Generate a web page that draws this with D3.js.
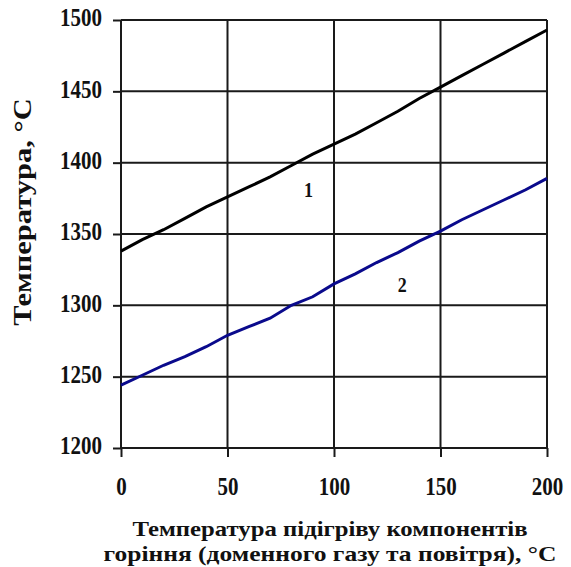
<!DOCTYPE html>
<html>
<head>
<meta charset="utf-8">
<script src="https://cdn.jsdelivr.net/npm/d3@7"></script>
<style>
  html, body { margin: 0; padding: 0; background: #fff; }
  svg { display: block; }
  text { font-family: "Liberation Serif", "Times New Roman", serif; font-weight: bold; fill: #111; }
</style>
</head>
<body>
<svg id="chart" width="571" height="567"></svg>
<script>
// Preheating temperature of the fuel components, °C
const preheat = [0, 10, 20, 30, 40, 50, 60, 70, 80, 90, 100, 110, 120, 130, 140, 150, 160, 170, 180, 190, 200];
// Curve 1 – flame temperature, °C
const series1 = [1338, 1346, 1353, 1361, 1369, 1376, 1383, 1390, 1398, 1406, 1413, 1420, 1428, 1436, 1445, 1453, 1461, 1469, 1477, 1485, 1493];
// Curve 2 – flame temperature, °C
const series2 = [1244, 1251, 1258, 1264, 1271, 1279, 1285, 1291, 1300, 1306, 1315, 1322, 1330, 1337, 1345, 1352, 1360, 1367, 1374, 1381, 1389];
const xTicks = [0, 50, 100, 150, 200];
const yTicks = [1200, 1250, 1300, 1350, 1400, 1450, 1500];
const curveLabels = [
  { name: "1", x: 88, y: 1381 },
  { name: "2", x: 132, y: 1315 }
];
const xTitle = ["Температура підігріву компонентів", "горіння (доменного газу та повітря), °C"];
const yTitle = "Температура, °C";

const svg = d3.select("#chart");
const plotLeft = 121, plotRight = 547, plotTop = 20, plotBottom = 448;
const tall = "scale(1,1.2)"; // numerals are drawn slightly elongated vertically

const x = d3.scaleLinear().domain([0, 200]).range([plotLeft, plotRight]);
const y = d3.scaleLinear().domain([1200, 1500]).range([plotBottom, plotTop]);

// grid
const grid = svg.append("g").attr("stroke", "#1a1a1a").attr("stroke-width", 2);
grid.selectAll("line.h").data(yTicks).join("line").attr("class", "h")
  .attr("x1", plotLeft).attr("x2", plotRight)
  .attr("y1", d => y(d)).attr("y2", d => y(d));
grid.selectAll("line.v").data(xTicks).join("line").attr("class", "v")
  .attr("y1", plotTop).attr("y2", plotBottom)
  .attr("x1", d => x(d)).attr("x2", d => x(d));

// axes
const yAxis = svg.append("g").attr("transform", `translate(${plotLeft},0)`)
  .call(d3.axisLeft(y).tickValues(yTicks).tickSize(8).tickPadding(11).tickFormat(d3.format("d")));
const xAxis = svg.append("g").attr("transform", `translate(0,${plotBottom})`)
  .call(d3.axisBottom(x).tickValues(xTicks).tickSize(9).tickPadding(15).tickFormat(d3.format("d")));
[yAxis, xAxis].forEach(g => {
  g.select(".domain").remove();
  g.selectAll(".tick line").attr("stroke", "#1a1a1a").attr("stroke-width", 2);
  g.selectAll(".tick text").attr("fill", "#111").attr("transform", tall)
    .style("font-family", '"Liberation Serif", serif').style("font-weight", "bold").style("font-size", "21px");
});
yAxis.selectAll(".tick text").attr("dy", "0.23em");

// curves
const line = d3.line().x((d, i) => x(preheat[i])).y(d => y(d));
svg.append("path").datum(series1).attr("d", line)
  .attr("fill", "none").attr("stroke", "#000").attr("stroke-width", 3);
svg.append("path").datum(series2).attr("d", line)
  .attr("fill", "none").attr("stroke", "#0a0a8c").attr("stroke-width", 3);

// curve numbers
svg.selectAll("text.cl").data(curveLabels).join("text").attr("class", "cl")
  .attr("transform", d => `translate(${x(d.x)},${y(d.y)}) ${tall}`)
  .attr("text-anchor", "middle").attr("dy", "0.35em")
  .style("font-size", "18px").text(d => d.name);

// axis titles (wide bold lettering)
svg.selectAll("text.xt").data(xTitle).join("text").attr("class", "xt")
  .attr("x", 330).attr("y", (d, i) => 536 + i * 25)
  .attr("text-anchor", "middle").style("font-size", "22px")
  .attr("textLength", (d, i) => i ? 453 : 395).attr("lengthAdjust", "spacingAndGlyphs")
  .text(d => d);
svg.append("text")
  .attr("transform", "translate(31,212) scale(1,1.22) rotate(-90)")
  .attr("text-anchor", "middle").style("font-size", "25px").text(yTitle);
</script>
</body>
</html>
